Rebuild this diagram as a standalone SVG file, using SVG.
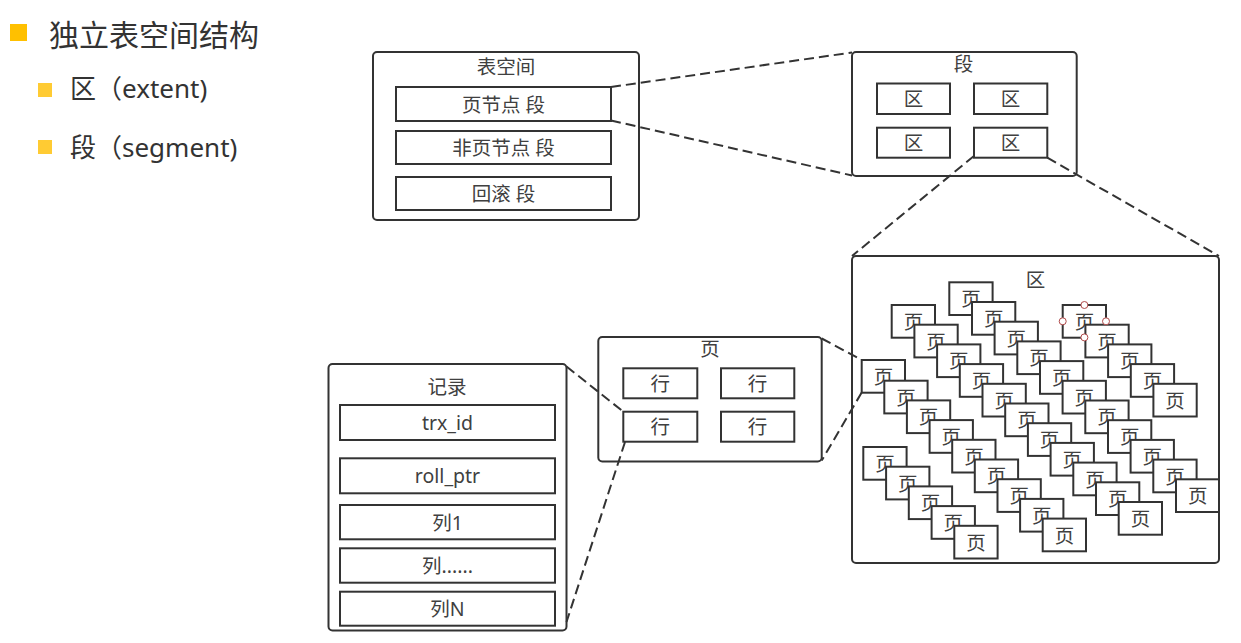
<svg xmlns="http://www.w3.org/2000/svg" width="1241" height="643" viewBox="0 0 1241 643">
<style>
.bx{fill:#fff;stroke:#333;stroke-width:2}
.ct{fill:#fff;stroke:#333;stroke-width:2}
.t{font-family:"Noto Sans","Noto Sans CJK SC",sans-serif;font-size:19.5px;fill:#404040;text-anchor:middle;dominant-baseline:central}
.h{font-family:"Noto Sans","Noto Sans CJK SC",sans-serif;fill:#333;dominant-baseline:central}
.cn{fill:none;stroke:#333;stroke-width:2;stroke-dasharray:10 5}
.hd{fill:#fff;stroke:#b04a4a;stroke-width:1}
</style>
<rect width="1241" height="643" fill="#fff"/>
<g id="header">
<rect x="10" y="24" width="17" height="17" fill="#FFC000"/>
<text class="h" x="49" y="34" font-size="30">独立表空间结构</text>
<rect x="38" y="83" width="14" height="14" fill="#FFCB33"/>
<text class="h" x="70" y="88" font-size="26">区（extent)</text>
<rect x="38" y="140" width="14" height="14" fill="#FFCB33"/>
<text class="h" x="70" y="147" font-size="26">段（segment)</text>
</g>
<g id="tablespace">
<rect class="ct" x="373" y="52" width="266" height="168" rx="4"/>
<text class="t" x="506" y="66">表空间</text>
<g id="seg-leaf"><rect class="bx" x="396" y="87" width="215" height="34"/><text class="t" x="503.5" y="104">页节点 段</text></g>
<g id="seg-nonleaf"><rect class="bx" x="396" y="131" width="215" height="33"/><text class="t" x="503.5" y="147.5">非页节点 段</text></g>
<g id="seg-rollback"><rect class="bx" x="396" y="177" width="215" height="33"/><text class="t" x="503.5" y="193.5">回滚 段</text></g>
</g>
<g id="segment">
<rect class="ct" x="852" y="52" width="224.7" height="124" rx="4"/>
<text class="t" x="963.5" y="63">段</text>
<g id="ext1"><rect class="bx" x="877" y="83.5" width="73" height="30.5"/><text class="t" x="913.5" y="98.7">区</text></g>
<g id="ext2"><rect class="bx" x="974" y="83.5" width="73.3" height="30.5"/><text class="t" x="1010.6" y="98.7">区</text></g>
<g id="ext3"><rect class="bx" x="877" y="127.7" width="73" height="30"/><text class="t" x="913.5" y="142.7">区</text></g>
<g id="ext4"><rect class="bx" x="974" y="127.7" width="73.3" height="30"/><text class="t" x="1010.6" y="142.7">区</text></g>
</g>
<g id="page">
<rect class="ct" x="598.3" y="337" width="223.4" height="124.5" rx="4"/>
<text class="t" x="710" y="348">页</text>
<g id="row1"><rect class="bx" x="623.3" y="368.3" width="74" height="30"/><text class="t" x="660.3" y="383.3">行</text></g>
<g id="row2"><rect class="bx" x="721" y="368.3" width="73.3" height="30"/><text class="t" x="757.6" y="383.3">行</text></g>
<g id="row3"><rect class="bx" x="623.3" y="411.7" width="74" height="30"/><text class="t" x="660.3" y="426.7">行</text></g>
<g id="row4"><rect class="bx" x="721" y="411.7" width="73.3" height="30"/><text class="t" x="757.6" y="426.7">行</text></g>
</g>
<g id="record">
<rect class="ct" x="328.5" y="364" width="238" height="266.5" rx="4"/>
<text class="t" x="447" y="386">记录</text>
<g id="f-trx"><rect class="bx" x="340" y="405" width="215" height="35"/><text class="t" x="447.5" y="422.5">trx_id</text></g>
<g id="f-roll"><rect class="bx" x="340" y="458.3" width="215" height="35"/><text class="t" x="447.5" y="475.8">roll_ptr</text></g>
<g id="f-c1"><rect class="bx" x="340" y="505" width="215" height="34.3"/><text class="t" x="447.5" y="522">列1</text></g>
<g id="f-cx"><rect class="bx" x="340" y="548.3" width="215" height="34.4"/><text class="t" x="447.5" y="565.5">列......</text></g>
<g id="f-cn"><rect class="bx" x="340" y="591.7" width="215" height="34"/><text class="t" x="447.5" y="608.7">列N</text></g>
</g>
<g id="extent">
<rect class="ct" x="852" y="256" width="367" height="307" rx="4"/>
<text class="t" x="1035.5" y="279">区</text>
<g id="pa0"><rect class="bx" x="949.3" y="282.3" width="43.3" height="32.7"/><text class="t" x="971" y="298.7">页</text></g>
<g id="pa1"><rect class="bx" x="972" y="302" width="43.3" height="32.7"/><text class="t" x="993.7" y="318.4">页</text></g>
<g id="pa2"><rect class="bx" x="994.6" y="321.7" width="43.3" height="32.7"/><text class="t" x="1016.3" y="338.1">页</text></g>
<g id="pa3"><rect class="bx" x="1017.3" y="341.4" width="43.3" height="32.7"/><text class="t" x="1039" y="357.8">页</text></g>
<g id="pa4"><rect class="bx" x="1040" y="361.1" width="43.3" height="32.7"/><text class="t" x="1061.7" y="377.5">页</text></g>
<g id="pa5"><rect class="bx" x="1062.6" y="380.8" width="43.3" height="32.7"/><text class="t" x="1084.3" y="397.2">页</text></g>
<g id="pa6"><rect class="bx" x="1085.3" y="400.5" width="43.3" height="32.7"/><text class="t" x="1107" y="416.9">页</text></g>
<g id="pa7"><rect class="bx" x="1108" y="420.2" width="43.3" height="32.7"/><text class="t" x="1129.7" y="436.6">页</text></g>
<g id="pa8"><rect class="bx" x="1130.6" y="439.9" width="43.3" height="32.7"/><text class="t" x="1152.3" y="456.3">页</text></g>
<g id="pa9"><rect class="bx" x="1153.3" y="459.6" width="43.3" height="32.7"/><text class="t" x="1175" y="476">页</text></g>
<g id="pa10"><rect class="bx" x="1176" y="479.3" width="43" height="32.7"/><text class="t" x="1197.7" y="495.7">页</text></g>
<g id="pb0"><rect class="bx" x="891.7" y="305" width="43.3" height="32.7"/><text class="t" x="913.4" y="321.4">页</text></g>
<g id="pb1"><rect class="bx" x="914.4" y="324.7" width="43.3" height="32.7"/><text class="t" x="936.1" y="341.1">页</text></g>
<g id="pb2"><rect class="bx" x="937.1" y="344.4" width="43.3" height="32.7"/><text class="t" x="958.8" y="360.8">页</text></g>
<g id="pb3"><rect class="bx" x="959.8" y="364.1" width="43.3" height="32.7"/><text class="t" x="981.5" y="380.5">页</text></g>
<g id="pb4"><rect class="bx" x="982.5" y="383.8" width="43.3" height="32.7"/><text class="t" x="1004.2" y="400.2">页</text></g>
<g id="pb5"><rect class="bx" x="1005.2" y="403.5" width="43.3" height="32.7"/><text class="t" x="1026.9" y="419.9">页</text></g>
<g id="pb6"><rect class="bx" x="1027.9" y="423.2" width="43.3" height="32.7"/><text class="t" x="1049.6" y="439.6">页</text></g>
<g id="pb7"><rect class="bx" x="1050.6" y="442.9" width="43.3" height="32.7"/><text class="t" x="1072.3" y="459.3">页</text></g>
<g id="pb8"><rect class="bx" x="1073.3" y="462.6" width="43.3" height="32.7"/><text class="t" x="1095" y="479">页</text></g>
<g id="pb9"><rect class="bx" x="1096" y="482.3" width="43.3" height="32.7"/><text class="t" x="1117.7" y="498.7">页</text></g>
<g id="pb10"><rect class="bx" x="1118.7" y="502" width="43.3" height="32.7"/><text class="t" x="1140.4" y="518.4">页</text></g>
<g id="pc0"><rect class="bx" x="1062.7" y="305" width="43.3" height="32.7"/><text class="t" x="1084.4" y="321.4">页</text></g>
<g id="pc1"><rect class="bx" x="1085.4" y="324.7" width="43.3" height="32.7"/><text class="t" x="1107.1" y="341.1">页</text></g>
<g id="pc2"><rect class="bx" x="1108.1" y="344.4" width="43.3" height="32.7"/><text class="t" x="1129.8" y="360.8">页</text></g>
<g id="pc3"><rect class="bx" x="1130.8" y="364.1" width="43.3" height="32.7"/><text class="t" x="1152.5" y="380.5">页</text></g>
<g id="pc4"><rect class="bx" x="1153.4" y="383.8" width="43.3" height="32.7"/><text class="t" x="1175.1" y="400.2">页</text></g>
<g id="pd0"><rect class="bx" x="861.7" y="360" width="43.3" height="32.7"/><text class="t" x="883.4" y="376.4">页</text></g>
<g id="pd1"><rect class="bx" x="884.3" y="380.7" width="43.3" height="32.7"/><text class="t" x="906" y="397.1">页</text></g>
<g id="pd2"><rect class="bx" x="906.9" y="400.4" width="43.3" height="32.7"/><text class="t" x="928.6" y="416.8">页</text></g>
<g id="pd3"><rect class="bx" x="929.6" y="420.1" width="43.3" height="32.7"/><text class="t" x="951.3" y="436.5">页</text></g>
<g id="pd4"><rect class="bx" x="952.2" y="439.8" width="43.3" height="32.7"/><text class="t" x="973.9" y="456.2">页</text></g>
<g id="pd5"><rect class="bx" x="974.8" y="459.5" width="43.3" height="32.7"/><text class="t" x="996.5" y="475.9">页</text></g>
<g id="pd6"><rect class="bx" x="997.5" y="479.2" width="43.3" height="32.7"/><text class="t" x="1019.2" y="495.6">页</text></g>
<g id="pd7"><rect class="bx" x="1020.1" y="498.9" width="43.3" height="32.7"/><text class="t" x="1041.8" y="515.3">页</text></g>
<g id="pd8"><rect class="bx" x="1042.7" y="518.6" width="43.3" height="32.7"/><text class="t" x="1064.4" y="535">页</text></g>
<g id="pe0"><rect class="bx" x="863.3" y="447" width="43.3" height="32.7"/><text class="t" x="885" y="463.4">页</text></g>
<g id="pe1"><rect class="bx" x="886.1" y="466.7" width="43.3" height="32.7"/><text class="t" x="907.8" y="483.1">页</text></g>
<g id="pe2"><rect class="bx" x="908.8" y="486.4" width="43.3" height="32.7"/><text class="t" x="930.5" y="502.8">页</text></g>
<g id="pe3"><rect class="bx" x="931.6" y="506.1" width="43.3" height="32.7"/><text class="t" x="953.3" y="522.5">页</text></g>
<g id="pe4"><rect class="bx" x="954.3" y="525.8" width="43.3" height="32.7"/><text class="t" x="976" y="542.2">页</text></g>
</g>
<g id="connectors">
<line class="cn" x1="611" y1="87" x2="852" y2="52.5"/>
<line class="cn" x1="611" y1="120.5" x2="852" y2="175.5"/>
<line class="cn" x1="974" y1="156" x2="852" y2="256"/>
<line class="cn" x1="1047.3" y1="157.7" x2="1219" y2="256"/>
<line class="cn" x1="821.7" y1="338.5" x2="861.7" y2="360"/>
<line class="cn" x1="861.7" y1="392.5" x2="821.7" y2="460.5"/>
<line class="cn" x1="566.5" y1="366.5" x2="623.3" y2="411.7"/>
<line class="cn" x1="625" y1="442" x2="566.5" y2="622"/>
</g>
<g id="handles">
<circle class="hd" cx="1084.4" cy="305" r="3.5"/>
<circle class="hd" cx="1062.7" cy="321.3" r="3.5"/>
<circle class="hd" cx="1106" cy="321.3" r="3.5"/>
<circle class="hd" cx="1084.4" cy="337.4" r="3.5"/>
</g>
</svg>
